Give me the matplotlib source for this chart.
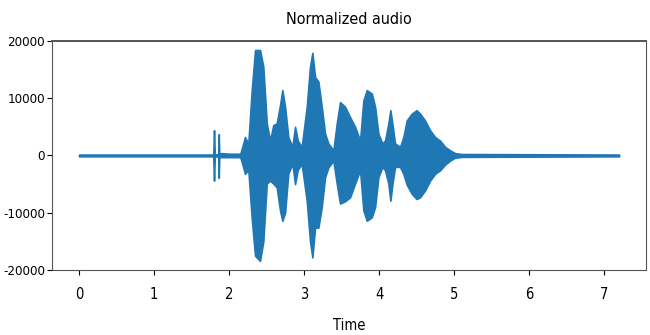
import matplotlib.pyplot as plt
import numpy as np

# envelope of the waveform (seconds, amplitude)
times = [0.00, 1.78, 1.79, 1.80, 1.81, 1.855, 1.863, 1.87, 1.90, 2.00, 2.15,
         2.177, 2.213, 2.257, 2.303, 2.347, 2.413, 2.457, 2.503, 2.547, 2.59,
         2.636, 2.68, 2.711, 2.747, 2.79, 2.844, 2.88, 2.916, 2.969, 3.036,
         3.08, 3.111, 3.147, 3.191, 3.236, 3.28, 3.324, 3.391, 3.436, 3.48,
         3.547, 3.613, 3.68, 3.747, 3.791, 3.836, 3.903, 3.947, 3.991, 4.044,
         4.08, 4.124, 4.151, 4.177, 4.213, 4.28, 4.324, 4.369, 4.436, 4.5,
         4.547, 4.613, 4.68, 4.747, 4.813, 4.88, 4.947, 5.013, 5.1, 7.2]
upper = [150, 150, 150, 4400, 150, 200, 3700, 300, 400, 300, 300,
         1500, 3200, 2100, 11400, 18400, 18400, 15500, 5600, 2600, 5300,
         5600, 8800, 11400, 8500, 3200, 1500, 5000, 2600, 1500, 8500,
         15500, 17900, 13700, 12900, 8500, 3800, 2100, 900, 5600, 9300,
         8500, 6700, 5000, 2600, 9600, 11400, 10800, 8500, 3800, 2100,
         2600, 5600, 7900, 5600, 2100, 1500, 3200, 6100, 7300, 7900,
         7300, 6100, 4400, 3200, 2600, 1500, 900, 400, 250, 150]
lower = [-150, -150, -150, -4400, -150, -200, -3900, -300, -300, -300, -300,
         -1500, -3200, -2500, -11000, -17500, -18400, -15000, -4900, -4400, -4900,
         -5600, -9600, -11400, -10000, -3200, -1400, -5000, -2500, -1500, -7900,
         -15000, -17800, -12600, -12600, -9000, -3800, -2100, -900, -4900, -8400,
         -8000, -7300, -4900, -2600, -9600, -11400, -10800, -9000, -3800, -2000,
         -2600, -4900, -7900, -5100, -2000, -2000, -3200, -5100, -6700, -7600,
         -7300, -6100, -4400, -3200, -2600, -1600, -900, -400, -250, -150]

plt.rcParams['font.family'] = ['DejaVu Sans']
plt.rcParams['font.stretch'] = 'condensed'
plt.rcParams['axes.unicode_minus'] = False

fig = plt.figure(figsize=(6.5, 3.35), dpi=100)
ax = fig.add_axes([0.08, 0.194, 0.914, 0.684])

ax.fill_between(times, lower, upper, color='#1f77b4', edgecolor='#1f77b4', linewidth=1.2)
ax.set_xlim(-0.36, 7.56)
ax.set_ylim(-20000, 20000)
ax.set_xticks(np.arange(0, 8))
ax.set_yticks([-20000, -10000, 0, 10000, 20000])
ax.tick_params(axis='x', labelsize=10.5, pad=9)
ax.tick_params(axis='y', labelsize=9.5, pad=1.5)
for s in ax.spines.values():
    s.set_color('#555555')
ax.spines['top'].set_linewidth(1.4)

ax.set_title('Normalized audio', fontsize=11.5, pad=12)
ax.set_xlabel('Time', fontsize=10.5, labelpad=11)

plt.savefig('out.png', dpi=100)
